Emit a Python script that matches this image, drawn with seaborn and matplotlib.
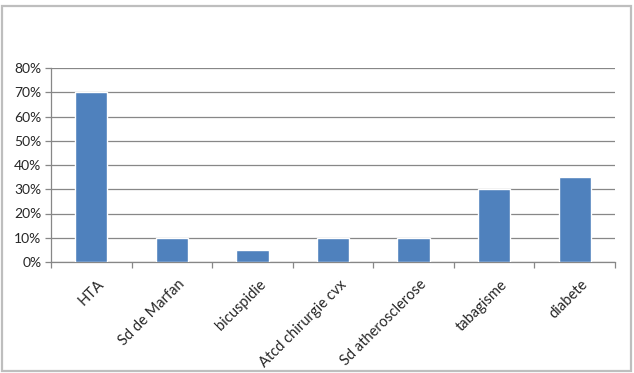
import matplotlib
matplotlib.use("Agg")
import matplotlib.pyplot as plt
import matplotlib.transforms as mtransforms
import seaborn as sns
import pandas as pd
from matplotlib.patches import Rectangle
from matplotlib.ticker import PercentFormatter, FixedLocator

# données
categories = ['HTA', 'Sd de Marfan', 'bicuspidie', 'Atcd chirurgie cvx',
              'Sd atherosclerose', 'tabagisme', 'diabete']
valeurs = [0.70, 0.10, 0.05, 0.10, 0.10, 0.30, 0.35]
ticks_y = [0, 0.1, 0.2, 0.3, 0.4, 0.5, 0.6, 0.7, 0.8]

df = pd.DataFrame({'cat': categories, 'val': valeurs})

sns.set_style('white')
plt.rcParams['font.family'] = ['Lato', 'DejaVu Sans']

fig = plt.figure(figsize=(6.34, 3.73), dpi=100)
ax = fig.add_axes([51 / 634, 1 - 262 / 373, (615 - 51) / 634, (262 - 68) / 373])

sns.barplot(data=df, x='cat', y='val', color='#4F81BD', width=0.4,
            saturation=1, ax=ax, zorder=3)

ax.set_ylim(0, 0.8)
ax.set_xlim(-0.5, len(categories) - 0.5)
ax.yaxis.set_major_locator(FixedLocator(ticks_y))
ax.yaxis.set_major_formatter(PercentFormatter(1.0, decimals=0))
ax.grid(axis='y', color='#878787', linewidth=0.9, zorder=0)
ax.set_axisbelow(True)

for s in ['top', 'right']:
    ax.spines[s].set_visible(False)
for s in ['left', 'bottom']:
    ax.spines[s].set_color('#878787')
    ax.spines[s].set_linewidth(0.9)

ax.tick_params(axis='y', length=4, color='#878787', width=0.9,
               labelsize=10, pad=3, left=True)
ax.set_xticks(range(len(categories)))
ax.set_xticklabels(categories, rotation=45, ha='right', va='top',
                   rotation_mode='anchor', fontsize=10.5)
ax.tick_params(axis='x', length=0, pad=11)
# petit décalage vers la droite des étiquettes
decal = mtransforms.ScaledTranslation(6 / 100, 0, fig.dpi_scale_trans)
for lab in ax.get_xticklabels():
    lab.set_transform(lab.get_transform() + decal)
ax.set_xticks([i + 0.5 for i in range(-1, len(categories))], minor=True)
ax.tick_params(axis='x', which='minor', length=4, color='#878787', width=0.9,
               bottom=True)
ax.set_xlabel('')
ax.set_ylabel('')

# cadre autour du graphique
fig.patches.append(Rectangle((1.5 / 634, 2 / 373), 629.5 / 634, 365 / 373,
                             transform=fig.transFigure, fill=False,
                             edgecolor='#BEBEBE', linewidth=1.6))

fig.savefig('out.png', dpi=100)
